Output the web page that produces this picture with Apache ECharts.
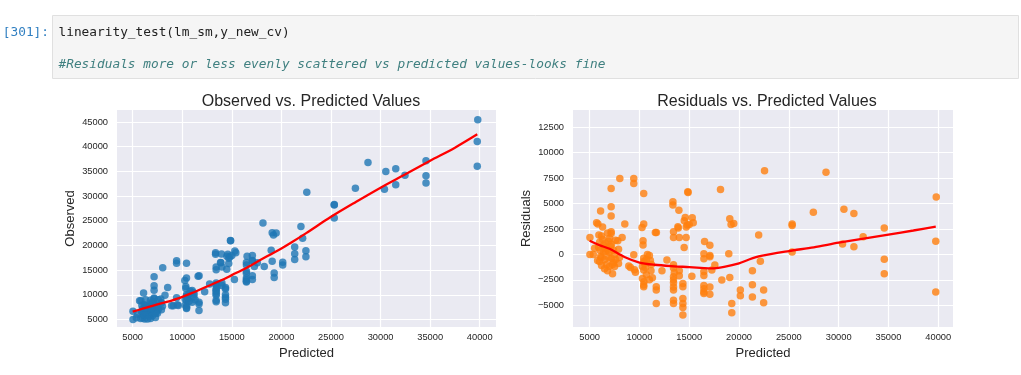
<!DOCTYPE html>
<html>
<head>
<meta charset="utf-8">
<script src="https://cdn.jsdelivr.net/npm/echarts@6/dist/echarts.min.js"></script>
<style>
  html, body { margin: 0; padding: 0; background: #fff; }
  #chart { width: 1021px; height: 375px; }
</style>
</head>
<body>
<div id="chart"></div>
<script>
// predicted values (shared x of both panels)
var predicted = [
  5030, 5030, 5370, 5500,
  5700, 5830, 5930, 6100, 6000, 5900, 6050, 6100, 6000, 6200, 6300, 6400, 6400, 6500, 6600, 6600, 6700, 6700, 6800, 6900,
  6900, 7000, 7000, 7100, 7160, 7160, 7160, 7160, 7160, 7200, 7200, 7300, 7400, 7400, 7500, 7600, 7600, 7830, 7900, 7900,
  8030, 8260, 8530, 8000, 6300, 6200, 7000, 6800,
  9430, 9430, 8930, 9100, 9430, 9500, 9600,
  10430, 10430, 10260, 10360, 10360, 10430, 10430, 10500, 10300, 10430, 10300, 10450, 10430, 10430, 11100, 11160, 10700,
  10600, 10800, 10700, 11000, 11000,
  11600, 11700, 11690, 11690, 11690, 12260, 12760, 11300, 11200,
  13360, 13360, 13420, 13420, 13420, 13420, 13420, 13420, 13420, 13420, 13420, 13420, 13420, 13500,
  13860, 13900, 13960, 14000, 14000, 14000, 14360, 14360, 14360, 14360, 14360, 14360, 14490, 14690, 14500, 14600, 14860,
  14880, 14800, 15000, 15260, 15300, 15400, 14700,
  16540, 16470, 16470, 16470, 16470, 16470, 16470, 16470, 16470, 17070, 17070, 17070, 17070, 17070, 17270, 17570,
  18140, 18270, 18970, 19070, 19200, 19470, 19070, 19270, 19270, 20130, 20130,
  21340, 21340, 21340, 21970, 22140, 22470, 22470, 22560,
  25330, 25330, 25330, 27460, 28730, 30530, 30390, 31530, 31530, 32460, 34580, 34580, 34580, 39800, 39750, 39750,
  5800, 6200, 6500, 7300, 7500, 6900
];
// observed values (left panel y)
var observed = [
  6700, 5030, 5370, 6100,
  8810, 8810, 7830, 10360, 7200, 6600, 6450, 5900, 5300, 5100, 7800, 7300, 6600, 6000, 7700, 6900, 5700, 7300, 5200, 8200,
  6600, 7200, 5800, 7900, 9390, 9220, 11850, 10930, 13650, 8200, 6800, 5400, 7800, 6600, 6300, 9000, 7100, 9170, 8400, 7000,
  15500, 9930, 11510, 7700, 9000, 8000, 8600, 8900,
  16900, 16410, 7780, 7820, 9400, 8000, 7850,
  16430, 13410, 12910, 11700, 11280, 10040, 9730, 9600, 9100, 8890, 7930, 7750, 7410, 7240, 10500, 9550, 8700,
  9300, 10800, 10200, 8500, 10900,
  13760, 13860, 8500, 8180, 6860, 10650, 12200, 9000, 10200,
  18540, 18210, 15650, 15090, 12400, 12070, 11220, 10920, 10620, 10220, 9920, 8920, 8590, 11700,
  16580, 16500, 18290, 15670, 12400, 11900, 11500, 11170, 10030, 9530, 9140, 8390, 15180, 16360, 17800, 18230, 21020,
  20960, 17700, 17950, 13120, 18900, 18510, 17400,
  17820, 16540, 16040, 14800, 14390, 13420, 13090, 12760, 12630, 17960, 16970, 16840, 13860, 13140, 15730, 16520,
  24530, 15740, 19040, 22570, 22150, 22510, 16800, 14440, 13530, 16620, 16060,
  19720, 18350, 17150, 23870, 21470, 18960, 17720, 30790,
  28310, 28180, 25570, 31610, 36800, 34980, 31410, 35550, 32290, 34200, 37170, 34110, 32670, 45450, 41040, 36050,
  5200, 5900, 5100, 6300, 7500, 7300
];
// residuals (right panel y)
var residuals = [
  1670, 0, 0, 600,
  3110, 2980, 1900, 4260, 1200, 700, 400, -200, -700, -1100, 1500, 900, 200, -500, 1100, 300, -1000, 600, -1600, 1300,
  -300, 200, -1200, 800, 2230, 2060, 4690, 3770, 6490, 1000, -400, -1900, 400, -800, -1200, 1400, -500, 1340, 500, -900,
  7470, 1670, 2980, -300, 2700, 1800, 1600, 2100,
  7470, 6980, -1150, -1280, -30, -1500, -1750,
  6000, 2980, 2650, 1340, 920, -390, -700, -900, -1200, -1540, -2370, -2700, -3020, -3190, -600, -1610, -2000,
  -1300, 0, -500, -2500, -100,
  2160, 2160, -3190, -3510, -4830, -1610, -560, -2300, -1000,
  5180, 4850, 2230, 1670, -1020, -1350, -2200, -2500, -2800, -3200, -3500, -4500, -4830, -1800,
  2720, 2600, 4330, 1670, -1600, -2100, -2860, -3190, -4330, -4830, -5220, -5970, 690, 1670, 3300, 3630, 6160,
  6080, 2900, 2950, -2140, 3600, 3110, 2700,
  1280, 70, -430, -1670, -2080, -3050, -3380, -3710, -3840, 890, -100, -230, -3210, -3930, -1540, -1050,
  6390, -2530, 70, 3500, 2950, 3040, -2270, -4830, -5740, -3510, -4070,
  -1620, -2990, -4190, 1900, -670, -3510, -4750, 8230,
  2980, 2850, 240, 4150, 8070, 4450, 1020, 4020, 760, 1740, 2590, -470, -1910, 5650, 1290, -3700,
  -600, -300, -1400, -1000, 0, 400
];
// lowess curves
var lowessObsX = [5000, 6000, 7500, 9000, 10000, 11000, 12500, 14000, 15000, 16500, 18000, 19000, 20000, 21000, 22500, 25000, 27500, 30000, 32500, 35000, 37500, 39750];
var lowessObsY = [6600, 7200, 8100, 8900, 9600, 10400, 11700, 13000, 14000, 15500, 17200, 18300, 19400, 20600, 22500, 25800, 28800, 31700, 34400, 37150, 39800, 42500];
var lowessResX = [5000, 6000, 7000, 8500, 10000, 11500, 13500, 15000, 16500, 17200, 18500, 20000, 21000, 22200, 25000, 27500, 30000, 32500, 35000, 37500, 39750];
var lowessResY = [1350, 900, 550, -250, -800, -1020, -1170, -1250, -1350, -1380, -1220, -880, -500, -150, 330, 700, 1150, 1550, 1950, 2350, 2720];

var xTicks = [5000, 10000, 15000, 20000, 25000, 30000, 35000, 40000];
var obsTicks = [5000, 10000, 15000, 20000, 25000, 30000, 35000, 40000, 45000];
var resTicks = [-5000, -2500, 0, 2500, 5000, 7500, 10000, 12500];

var FONT = '"Liberation Sans", Arial, sans-serif';
var MONO = '"DejaVu Sans Mono", monospace';
var INK = '#262626';

function zip(xs, ys) {
  return xs.map(function (x, i) { return [x, ys[i]]; });
}

function valueAxis(gridIndex, min, max, ticks, name, isY) {
  return {
    type: 'value',
    gridIndex: gridIndex,
    min: min,
    max: max,
    name: name,
    nameLocation: 'middle',
    nameGap: isY ? 40 : 20,
    nameTextStyle: { fontSize: 13, color: INK, fontFamily: FONT },
    axisLine: { show: false },
    axisTick: { show: false, customValues: ticks },
    axisLabel: {
      customValues: ticks,
      fontSize: 9.3,
      color: INK,
      fontFamily: FONT,
      margin: isY ? 9 : 6,
      formatter: function (v) { return String(v).replace('-', '\u2212'); }
    },
    splitLine: { show: true, lineStyle: { color: '#ffffff', width: 1.2 } }
  };
}

var chart = echarts.init(document.getElementById('chart'), null, { renderer: 'canvas' });

var option = {
  animation: false,
  backgroundColor: '#ffffff',
  title: [
    { text: 'Observed vs. Predicted Values', left: 306, top: 89, textAlign: 'center',
      textStyle: { fontSize: 16, fontWeight: 'normal', color: INK, fontFamily: FONT } },
    { text: 'Residuals vs. Predicted Values', left: 762, top: 89, textAlign: 'center',
      textStyle: { fontSize: 16, fontWeight: 'normal', color: INK, fontFamily: FONT } }
  ],
  grid: [
    { left: 117, top: 110, width: 379, height: 217, show: true, backgroundColor: '#EAEAF2', borderWidth: 0 },
    { left: 573, top: 110, width: 380, height: 217, show: true, backgroundColor: '#EAEAF2', borderWidth: 0 }
  ],
  xAxis: [
    valueAxis(0, 3420, 41640, xTicks, 'Predicted', false),
    valueAxis(1, 3330, 41480, xTicks, 'Predicted', false)
  ],
  yAxis: [
    valueAxis(0, 3500, 47430, obsTicks, 'Observed', true),
    valueAxis(1, -7140, 14200, resTicks, 'Residuals', true)
  ],
  series: [
    { type: 'scatter', xAxisIndex: 0, yAxisIndex: 0, symbolSize: 7.5,
      itemStyle: { color: '#1f77b4', opacity: 0.8 }, emphasis: { disabled: true },
      data: zip(predicted, observed) },
    { type: 'line', xAxisIndex: 0, yAxisIndex: 0, showSymbol: false, smooth: 0.3, z: 3,
      lineStyle: { color: '#ff0000', width: 2.3 }, emphasis: { disabled: true },
      data: zip(lowessObsX, lowessObsY) },
    { type: 'scatter', xAxisIndex: 1, yAxisIndex: 1, symbolSize: 7.5,
      itemStyle: { color: '#ff7f0e', opacity: 0.8 }, emphasis: { disabled: true },
      data: zip(predicted, residuals) },
    { type: 'line', xAxisIndex: 1, yAxisIndex: 1, showSymbol: false, smooth: 0.3, z: 3,
      lineStyle: { color: '#ff0000', width: 2.3 }, emphasis: { disabled: true },
      data: zip(lowessResX, lowessResY) }
  ],
  graphic: [
    { type: 'rect', silent: true, shape: { x: 52.5, y: 15.5, width: 966, height: 63 },
      style: { fill: '#f5f5f5', stroke: '#e0e0e0', lineWidth: 1 } },
    { type: 'text', silent: true, x: 49, y: 33,
      style: { text: '[301]:', fill: '#307fc1', font: '12.8px ' + MONO, align: 'right', verticalAlign: 'middle' } },
    { type: 'text', silent: true, x: 58.5, y: 33,
      style: { text: 'linearity_test(lm_sm,y_new_cv)', fill: '#212121', font: '12.8px ' + MONO, align: 'left', verticalAlign: 'middle' } },
    { type: 'text', silent: true, x: 58.5, y: 65,
      style: { text: '#Residuals more or less evenly scattered vs predicted values-looks fine', fill: '#408080',
        font: 'italic 12.8px ' + MONO, align: 'left', verticalAlign: 'middle' } }
  ]
};

chart.setOption(option);
</script>
</body>
</html>
